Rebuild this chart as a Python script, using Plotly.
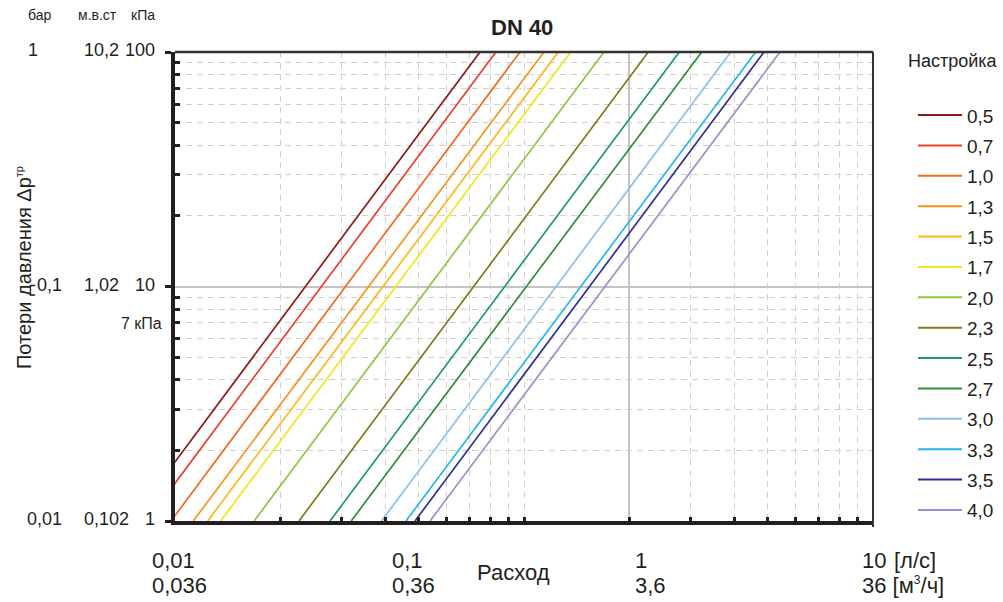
import numpy as np
import plotly.graph_objects as go

# настройки клапана DN 40
settings = ["0,5", "0,7", "1,0", "1,3", "1,5", "1,7", "2,0", "2,3", "2,5", "2,7", "3,0", "3,3", "3,5", "4,0"]
colors = ["#8b1a1a", "#e8402a", "#f26a22", "#f7931e", "#fbb817", "#f4e51c", "#8dc63f", "#7f7a1d",
          "#1f9a6c", "#2f8d3e", "#8dbfe6", "#28b6e8", "#2e3192", "#a58dc5"]

# расход (л/с) при потере давления 1 кПа и 100 кПа
dp_low, dp_high = 1, 100
q_low = [0.00748, 0.00831, 0.00974, 0.01128, 0.01241, 0.01352, 0.01685, 0.02266,
         0.02781, 0.03198, 0.03906, 0.04590, 0.04872, 0.05380]
q_high = [0.0748, 0.0831, 0.0974, 0.1141, 0.1254, 0.1361, 0.1695, 0.2271,
          0.2786, 0.3230, 0.3912, 0.4612, 0.4873, 0.5415]

# подписи осей
kpa_ticks = [100, 10, 1]
bar_labels = ["1", "0,1", "0,01"]
mvst_labels = ["10,2", "1,02", "0,102"]
kpa_labels = ["100", "10", "1"]
ls_labels = ["0,01", "0,1", "1", "10"]
m3h_labels = ["0,036", "0,36", "3,6", "36 [м<sup><span style='font-size:12px'>3</span></sup>/ч]"]

FONT = "Liberation Sans, Arial, sans-serif"
TXT = "#231f20"
L, R, T, B = 175, 873, 52, 521


def px(x):
    return (x - L) / (R - L)


def py(y):
    return (B - y) / (B - T)


fig = go.Figure()

# линии характеристик
for name, c, q1, q2 in zip(settings, colors, q_low, q_high):
    fig.add_trace(go.Scatter(
        x=[q1, q2], y=[dp_low, dp_high],
        mode="lines", name=name,
        line=dict(color=c, width=1.7),
        showlegend=False, hoverinfo="name"
    ))

ann = []
shapes = []


def text(s, x, y, size, anchor="center", **kw):
    ann.append(dict(text=s, x=px(x), y=py(y), xref="paper", yref="paper",
                    xanchor=anchor, yanchor="middle", showarrow=False,
                    font=dict(family=FONT, size=size, color=TXT), **kw))


# заголовки столбцов слева
text("бар", 39, 15, 14)
text("м.в.ст", 97, 15, 14)
text("кПа", 143, 15, 14)

for v, b, m, k in zip(kpa_ticks, bar_labels, mvst_labels, kpa_labels):
    yy = B - np.log10(v) * (B - T) / 2 - 2
    if b == "1":
        text(b, 33, yy, 18)
    else:
        text(b, 64, yy, 18, anchor="right")
    text(m, 82, yy, 18, anchor="left")
    text(k, 157, yy, 18, anchor="right")

text("7 кПа", 164, 323, 16, anchor="right")

# подписи по оси расхода
for s, x in zip(ls_labels, [150, 390, 633, 860]):
    text(s, x, 560, 22, anchor="left")
for s, x in zip(m3h_labels, [150, 390, 633, 860]):
    text(s, x, 585, 22, anchor="left")
text("[л/с]", 892, 560, 22, anchor="left")
text("Расход", 513, 572, 22)

text("<b>DN 40</b>", 522, 27, 22)
text("Потери давления Δp<sup><span style='font-size:11px'>тр</span></sup>", 24, 268, 20, textangle=-90)

# легенда
text("Настройка", 953, 61, 18)
for i, (name, c) in enumerate(zip(settings, colors)):
    yy = 115 + 30.38 * i
    shapes.append(dict(type="line", xref="paper", yref="paper",
                       x0=px(918), x1=px(962), y0=py(yy), y1=py(yy),
                       line=dict(color=c, width=2)))
    text(name, 965, yy + 1, 19, anchor="left")

# верхняя и правая рамка
shapes.append(dict(type="line", xref="paper", yref="paper", x0=0, x1=1, y0=1, y1=1,
                   line=dict(color="#333", width=2.5), layer="above"))
shapes.append(dict(type="line", xref="paper", yref="paper", x0=1, x1=1, y0=-0.013, y1=1,
                   line=dict(color="#333", width=2), layer="above"))

x_minor = [0.02, 0.03, 0.04, 0.05, 0.06, 0.07, 0.08, 0.09, 0.1, 0.3, 0.4, 0.5, 0.6, 0.7, 0.8, 0.9]
y_minor = [2, 3, 4, 5, 6, 7, 8, 9, 20, 30, 40, 50, 60, 70, 80, 90]

fig.update_layout(
    width=1003, height=602,
    margin=dict(l=L, r=1003 - R, t=T, b=602 - B),
    paper_bgcolor="white", plot_bgcolor="white",
    showlegend=False,
    annotations=ann, shapes=shapes,
    xaxis=dict(
        type="log", range=[-2, 0],
        tickmode="array", tickvals=[0.2], showticklabels=False,
        ticks="inside", ticklen=4, tickwidth=3, tickcolor="#231f20",
        showgrid=True, gridcolor="#c4c4c4", gridwidth=1.5,
        showline=True, linecolor="#231f20", linewidth=4,
        minor=dict(tickmode="array", tickvals=x_minor, ticks="inside", ticklen=4,
                   tickwidth=3, tickcolor="#231f20", showgrid=True,
                   gridcolor="#cfcfcf", gridwidth=1.2, griddash="6px,5px"),
        zeroline=False
    ),
    yaxis=dict(
        type="log", range=[0, 2],
        tickmode="array", tickvals=kpa_ticks, showticklabels=False,
        ticks="outside", ticklen=6, tickwidth=3, tickcolor="#231f20",
        showgrid=True, gridcolor="#c4c4c4", gridwidth=1.5,
        showline=True, linecolor="#231f20", linewidth=4,
        minor=dict(tickmode="array", tickvals=y_minor, ticks="inside", ticklen=5,
                   tickwidth=3, tickcolor="#231f20", showgrid=True,
                   gridcolor="#cfcfcf", gridwidth=1.2, griddash="6px,5px"),
        zeroline=False
    ),
)

fig.write_html("out.html", config={"displayModeBar": False},
               post_script="document.body.style.margin='0';document.body.style.overflow='hidden';")
